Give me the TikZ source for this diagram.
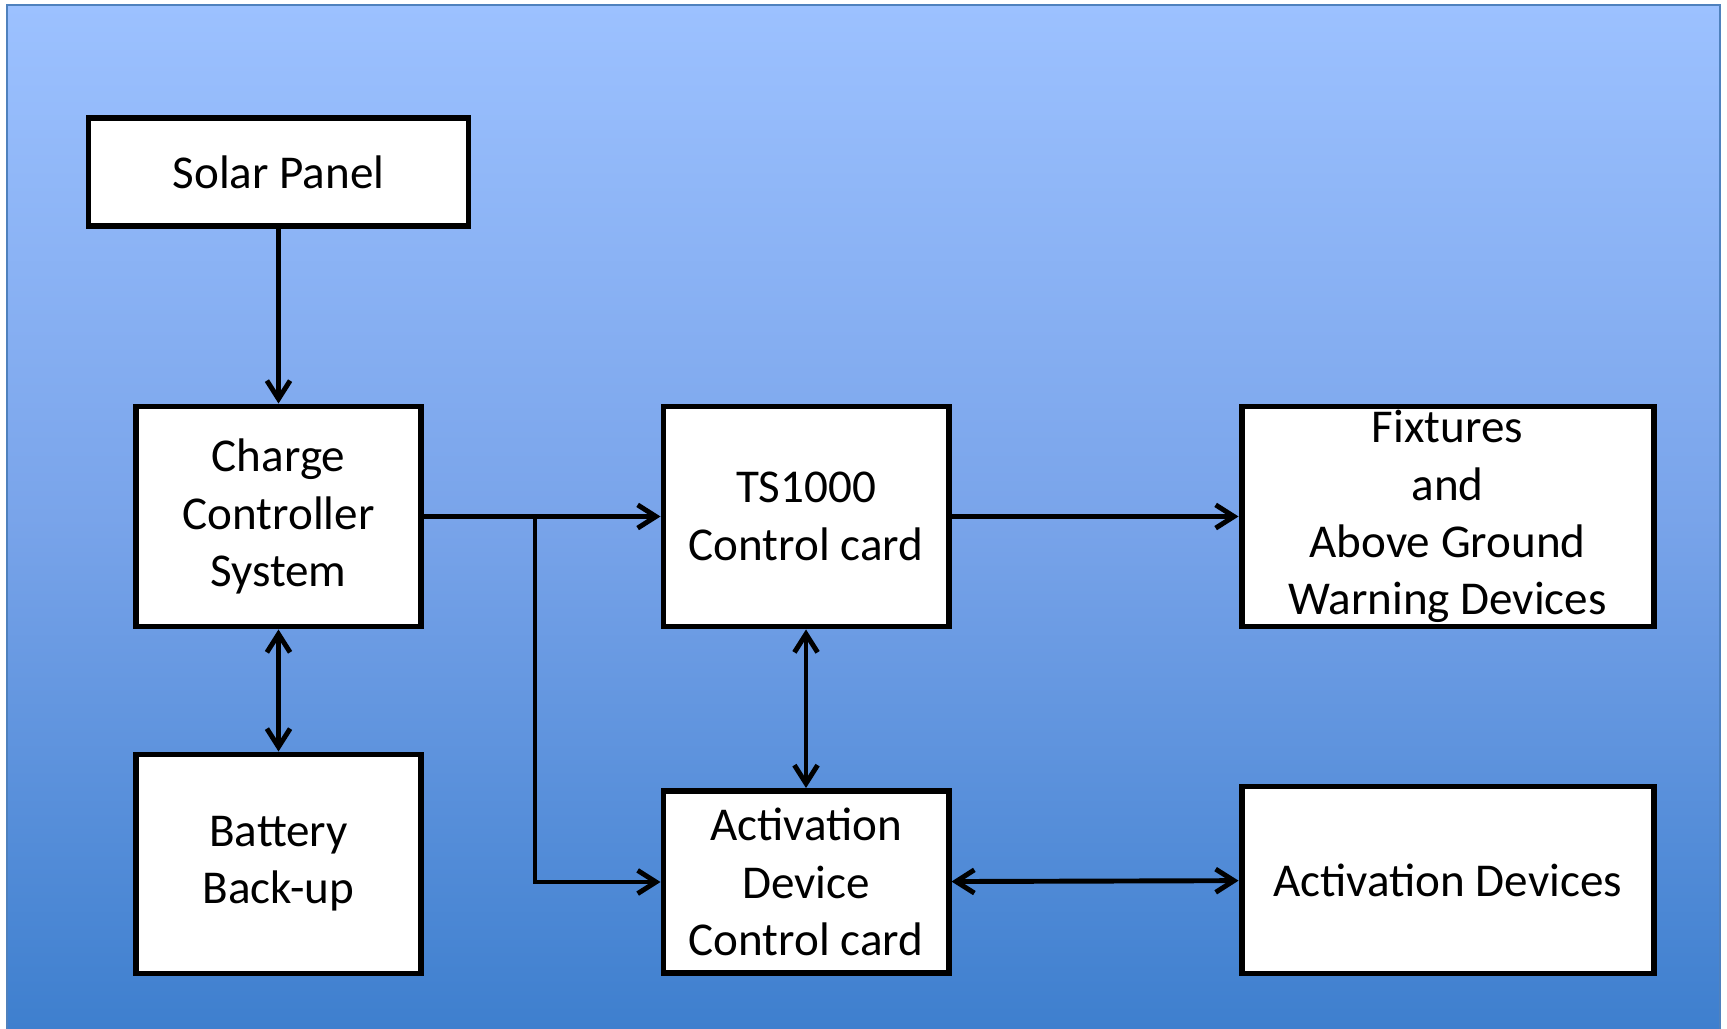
\documentclass[tikz,border=0pt]{standalone}
\usepackage{fontspec}
\setmainfont{Carlito}
\usetikzlibrary{arrows.meta,positioning}
\definecolor{bgtop}{RGB}{156,193,255}
\definecolor{bgmid}{RGB}{121,164,234}
\definecolor{bgbot}{RGB}{62,127,206}
\definecolor{bgline}{RGB}{79,129,189}

\begin{document}
\begin{tikzpicture}[>={Straight Barb[length=5.2pt,width=6.6pt]},line width=1.4pt,line cap=round,node distance=3.44cm,
  block/.style={draw,fill=white,line width=1.7pt,line cap=butt,align=center,inner sep=0pt,
    minimum width=2.85cm,minimum height=2.2cm,font=\fontsize{13.4}{16.3}\selectfont}]
  \useasboundingbox (0,0) rectangle (17.27,-10.29);
  % background
  \fill[top color=bgtop,bottom color=bgbot,middle color=bgmid] (0.07,-0.05) rectangle (17.2,-10.29);
  \draw[bgline,line width=0.7pt] (0.07,-10.29) |- (17.2,-0.05) -- (17.2,-10.29);

  \node[block,minimum width=3.8cm,minimum height=1.08cm] (sp) at (2.785,-1.725) {Solar Panel};
  \node[block] (cc) [below of=sp] {Charge\\Controller\\System};
  \node[block,minimum height=2.19cm] (bat) [below of=cc,node distance=3.475cm] {Battery\\Back-up};
  \node[block] (ts) [right of=cc,node distance=5.275cm] {TS1000\\Control card};
  \node[block,minimum height=1.82cm] (adc) [below of=ts,node distance=3.655cm] {Activation\\Device\\Control card};
  \node[block,minimum width=4.12cm] (fix) [right of=ts,node distance=6.415cm] {Fixtures\\and\\Above Ground\\Warning Devices};
  \node[block,minimum width=4.12cm,minimum height=1.87cm] (ad) [below of=fix,node distance=3.635cm] {Activation Devices};
  \coordinate (split) at (5.35,-5.165);

  \draw[->] (sp) -- (cc);
  \draw[<->] (cc) -- (bat);
  \draw[->] (cc) -- (ts);
  \draw[->] (split) |- (adc);
  \draw[->] (ts) -- (fix);
  \draw[<->] (ts) -- (adc);
  \draw[<->] (adc) -- (ad);
\end{tikzpicture}
\end{document}
